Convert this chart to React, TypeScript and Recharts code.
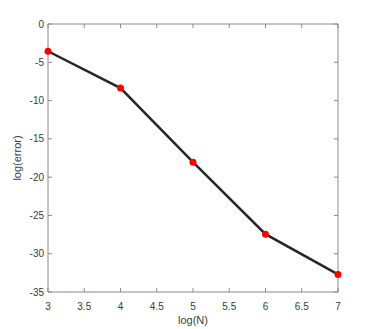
import React from 'react';
import { LineChart, Line, XAxis, YAxis, Label } from 'recharts';

const logN = [3, 4, 5, 6, 7];
const logError = [-3.56, -8.36, -18.05, -27.45, -32.7];
const xTicks = [3, 3.5, 4, 4.5, 5, 5.5, 6, 6.5, 7];
const yTicks = [-35, -30, -25, -20, -15, -10, -5, 0];

const data = logN.map((n, i) => ({ n, err: logError[i] }));

const axisColor = '#8a8a8a';
const textColor = '#3a3a3a';
const font = 'Liberation Sans, Arial, sans-serif';
const blank = () => '';

export default function App() {
  return (
    <div style={{ position: 'absolute', left: 0, top: 0, background: '#fff' }}>
      <LineChart
        width={374}
        height={329}
        data={data}
        margin={{ top: 23, right: 35, bottom: 0, left: 0 }}
        style={{ fontFamily: font }}
      >
        <XAxis
          dataKey="n"
          type="number"
          domain={[3, 7]}
          ticks={xTicks}
          height={37}
          stroke={axisColor}
          tickSize={-4}
          tickMargin={15}
          tick={{ fill: textColor, fontSize: 10 }}
        >
          <Label value="log(N)" position="insideBottom" offset={5} fill={textColor} fontSize={11} />
        </XAxis>
        <XAxis
          xAxisId="top"
          orientation="top"
          dataKey="n"
          type="number"
          domain={[3, 7]}
          ticks={xTicks}
          height={1}
          stroke={axisColor}
          tickSize={-4}
          tickFormatter={blank}
        />
        <YAxis
          type="number"
          domain={[-35, 0]}
          ticks={yTicks}
          width={48}
          stroke={axisColor}
          tickSize={-4}
          tickMargin={8}
          tick={{ fill: textColor, fontSize: 10 }}
        >
          <Label
            value="log(error)"
            angle={-90}
            position="insideLeft"
            offset={17}
            fill={textColor}
            fontSize={11}
            style={{ textAnchor: 'middle' }}
          />
        </YAxis>
        <YAxis
          yAxisId="right"
          orientation="right"
          type="number"
          domain={[-35, 0]}
          ticks={yTicks}
          width={1}
          stroke={axisColor}
          tickSize={-4}
          tickFormatter={blank}
        />
        <Line
          xAxisId="top"
          yAxisId="right"
          dataKey="err"
          stroke="none"
          dot={{ r: 3.5, fill: '#ff0000', stroke: 'none' }}
          isAnimationActive={false}
        />
        <Line
          dataKey="err"
          type="linear"
          stroke="#262626"
          strokeWidth={2.5}
          dot={false}
          isAnimationActive={false}
        />
      </LineChart>
    </div>
  );
}
